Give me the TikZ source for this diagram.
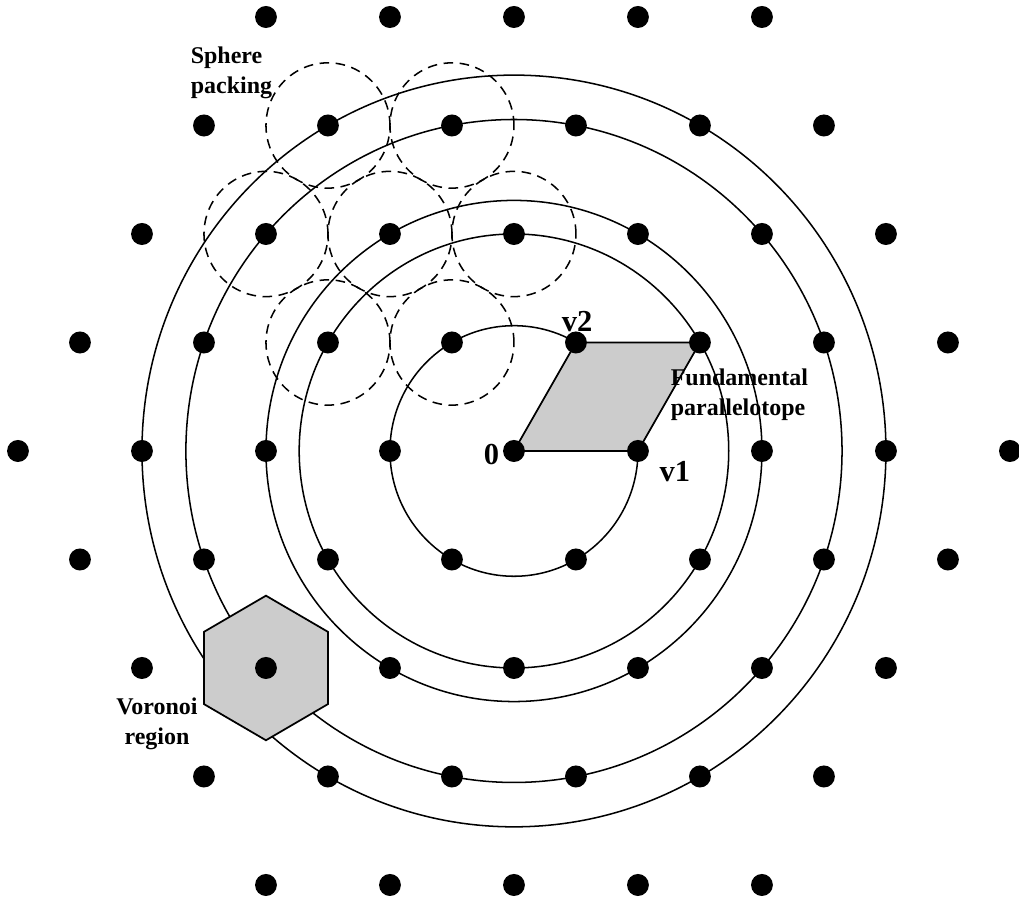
\documentclass[tikz,border=0pt]{standalone}
\usepackage{fontspec}
\setmainfont{Liberation Serif}
\usepackage{tikz}
\usetikzlibrary{calc}

\begin{document}
\begin{tikzpicture}[x=1cm,y=1.0104cm,
    latpt/.style={fill=black},
    packing/.style={dash pattern=on 2.2pt off 1.5pt,line width=0.35pt},
    cellfill/.style={fill=gray!40,draw=black,line width=0.4pt},
    lbl/.style={font=\bfseries\fontsize{5.5}{7}\selectfont,inner sep=0pt,align=left},
    vlbl/.style={font=\bfseries\fontsize{7}{8}\selectfont,inner sep=0pt}]

    % Rahmen gambar
    \useasboundingbox (-4.145,-3.5757) rectangle (4.073,3.5996);

    % Lingkaran konsentris di sekitar titik asal
    \foreach \r in {1,1.7321,2,2.6458,3}
      \draw[line width=0.35pt] (0,0) circle (\r);

    % Lingkaran putus-putus untuk sphere packing
    \foreach \p in {(-1.5,2.598),(-0.5,2.598),(-2,1.732),(-1,1.732),(0,1.732),(-1.5,0.866),(-0.5,0.866)}
      \draw[packing] \p circle (0.5);

    % Parallelotope dasar dari v1 dan v2
    \coordinate (O) at (0,0);
    \coordinate (v1) at (1,0);
    \coordinate (v2) at (0.5,0.866);
    \coordinate (v12) at (1.5,0.866);
    \filldraw[cellfill] (O)--(v1)--(v12)--(v2)--cycle;

    % Daerah Voronoi (segi enam)
    \coordinate (vc) at (-2,-1.732);
    \filldraw[cellfill] ($(vc)+(30:0.577)$) \foreach \t in {90,150,...,330} {-- ($(vc)+(\t:0.577)$)} -- cycle;

    % Titik-titik kisi heksagonal
    \foreach \a in {-4,...,4}
      \foreach \b in {-4,...,4}{
        \pgfmathtruncatemacro{\s}{\a+\b}
        \ifnum\s<5 \ifnum\s>-5
          \fill[latpt] (\a+0.5*\b,0.866*\b) circle (0.088);
        \fi\fi
      }

    % Label
    \node[vlbl] (lo) at (-0.181,-0.032) {0};
    \node[vlbl] (lv1) at (1.298,-0.168) {v1};
    \node[vlbl] (lv2) at (0.51,1.035) {v2};
    \node[lbl,anchor=west] (lsp) at (-2.613,3.017) {Sphere\\packing};
    \node[lbl,anchor=west] (lfp) at (1.258,0.447) {Fundamental\\parallelotope};
    \node[lbl,align=center] (lvr) at (-2.879,-2.179) {Voronoi\\region};

\end{tikzpicture}
\end{document}
